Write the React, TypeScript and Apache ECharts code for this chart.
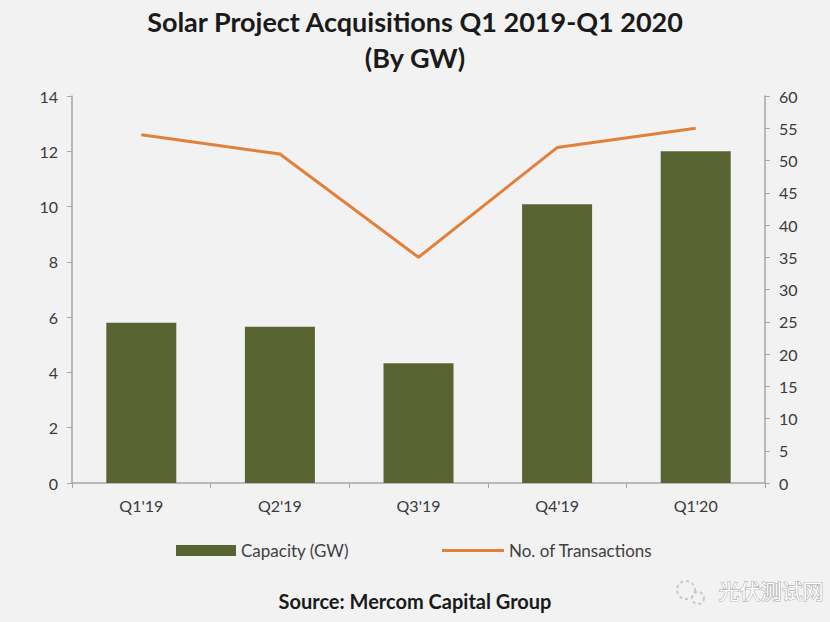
import React, { useEffect, useRef } from "react";
import * as echarts from "echarts";

const categories = ["Q1'19", "Q2'19", "Q3'19", "Q4'19", "Q1'20"];
const capacityGW = [5.8, 5.65, 4.33, 10.08, 12.0];
const transactions = [54, 51, 35, 52, 55];

const FONT = "Lato, 'Noto Sans', sans-serif";

export default function App() {
  const ref = useRef<HTMLDivElement>(null);
  useEffect(() => {
    if (!ref.current) return;
    const chart = echarts.init(ref.current, null, { renderer: "svg" });
    const axisLabel = { fontSize: 16, color: "#3a3a3a", fontFamily: FONT };
    chart.setOption({
      animation: false,
      backgroundColor: "#f2f2f2",
      textStyle: { fontFamily: FONT },
      title: [
        {
          text: "Solar Project Acquisitions Q1 2019-Q1 2020",
          left: "center",
          top: 3,
          textStyle: { fontSize: 27, fontWeight: "bold", color: "#1a1a1a", fontFamily: FONT },
        },
        {
          text: "(By GW)",
          left: "center",
          top: 39,
          textStyle: { fontSize: 27, fontWeight: "bold", color: "#1a1a1a", fontFamily: FONT },
        },
        {
          text: "Source: Mercom Capital Group",
          left: "center",
          top: 586,
          textStyle: { fontSize: 20, fontWeight: "bold", color: "#1a1a1a", fontFamily: FONT },
        },
      ],
      grid: { left: 72, right: 65, top: 96, bottom: 139, containLabel: false },
      legend: [
        {
          left: 171,
          top: 537,
          data: ["Capacity (GW)"],
          icon: "rect",
          itemWidth: 60,
          itemHeight: 11,
          textStyle: { fontSize: 17, color: "#404040", fontFamily: FONT },
        },
        {
          left: 437,
          top: 537,
          data: ["No. of Transactions"],
          icon: "rect",
          itemWidth: 62,
          itemHeight: 3,
          textStyle: { fontSize: 17, color: "#404040", fontFamily: FONT },
        },
      ],
      xAxis: {
        type: "category",
        data: categories,
        boundaryGap: true,
        axisLine: { lineStyle: { color: "#a6a6a6", width: 1.5 } },
        axisTick: { show: true, length: 5, alignWithLabel: false, lineStyle: { color: "#a6a6a6" } },
        axisLabel: { margin: 14, ...axisLabel },
      },
      yAxis: [
        {
          type: "value",
          min: 0,
          max: 14,
          interval: 2,
          position: "left",
          splitLine: { show: false },
          axisLine: { show: true, lineStyle: { color: "#a6a6a6", width: 1.5 } },
          axisTick: { show: true, length: 5, lineStyle: { color: "#a6a6a6" } },
          axisLabel: { margin: 14, ...axisLabel },
        },
        {
          type: "value",
          min: 0,
          max: 60,
          interval: 5,
          position: "right",
          splitLine: { show: false },
          axisLine: { show: true, lineStyle: { color: "#a6a6a6", width: 1.5 } },
          axisTick: { show: true, length: 5, lineStyle: { color: "#a6a6a6" } },
          axisLabel: { margin: 14, ...axisLabel },
        },
      ],
      series: [
        {
          name: "Capacity (GW)",
          type: "bar",
          data: capacityGW,
          yAxisIndex: 0,
          barWidth: 70,
          itemStyle: { color: "#576431" },
        },
        {
          name: "No. of Transactions",
          type: "line",
          data: transactions,
          yAxisIndex: 1,
          symbol: "none",
          lineStyle: { color: "#E2803A", width: 3 },
          itemStyle: { color: "#E2803A" },
        },
      ],
      graphic: [
        {
          type: "text",
          left: 718,
          top: 579,
          style: {
            text: "光伏测试网",
            fontSize: 21,
            fontFamily: "'Noto Sans CJK SC', sans-serif",
            fill: "#ffffff",
            stroke: "#a0a0a0",
            lineWidth: 1,
          },
        },
        {
          type: "circle",
          shape: { cx: 686, cy: 590, r: 9 },
          style: { fill: "none", stroke: "#c8c8c8", lineWidth: 2, lineDash: [3, 3] },
        },
        {
          type: "circle",
          shape: { cx: 698, cy: 598, r: 6 },
          style: { fill: "none", stroke: "#c8c8c8", lineWidth: 2, lineDash: [3, 3] },
        },
      ],
    });
    return () => chart.dispose();
  }, []);
  return (
    <div
      ref={ref}
      style={{ position: "fixed", left: 0, top: 0, width: 830, height: 622 }}
    />
  );
}
